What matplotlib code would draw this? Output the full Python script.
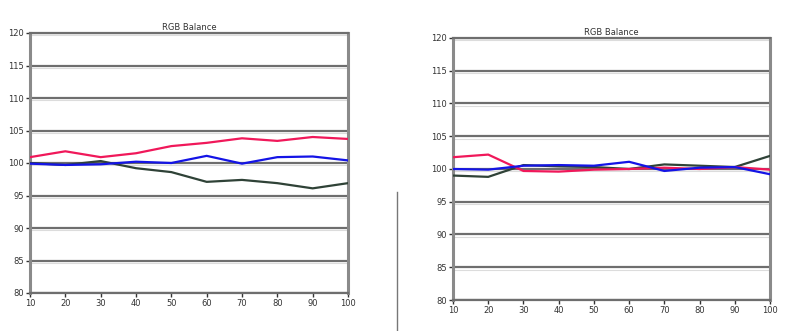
import matplotlib
matplotlib.use("Agg")
import matplotlib.pyplot as plt
from matplotlib.lines import Line2D

x_levels = [10, 20, 30, 40, 50, 60, 70, 80, 90, 100]
y_ticks = [80, 85, 90, 95, 100, 105, 110, 115, 120]

left_red = [100.9, 101.8, 100.9, 101.5, 102.6, 103.1, 103.8, 103.4, 104.0, 103.7]
left_green = [100.0, 99.7, 100.3, 99.2, 98.6, 97.1, 97.4, 96.9, 96.1, 96.9]
left_blue = [99.9, 99.7, 99.8, 100.2, 100.0, 101.1, 99.9, 100.9, 101.0, 100.4]

right_red = [101.8, 102.2, 99.7, 99.6, 99.9, 100.0, 100.2, 100.0, 100.3, 99.9]
right_green = [99.0, 98.8, 100.6, 100.4, 100.3, 100.0, 100.7, 100.5, 100.3, 102.0]
right_blue = [100.0, 99.9, 100.5, 100.6, 100.5, 101.1, 99.7, 100.2, 100.3, 99.2]

title = "RGB Balance"

fig = plt.figure(figsize=(7.92, 3.31), dpi=100)
fig.patch.set_facecolor("white")

def draw(ax, red, green, blue):
    ax.set_xlim(10, 100)
    ax.set_ylim(80, 120)
    for v in y_ticks:
        ax.axhline(v, color="#6e6e6e", lw=1.6, zorder=1)
        ax.axhline(v - 0.35, color="#dcdcdc", lw=0.8, zorder=0.9)
    ax.plot(x_levels, green, color="#2f4237", lw=1.6, zorder=3)
    ax.plot(x_levels, red, color="#f0185a", lw=1.6, zorder=4)
    ax.plot(x_levels, blue, color="#1414e6", lw=1.6, zorder=5)
    ax.set_xticks(x_levels)
    ax.set_yticks(y_ticks)
    ax.tick_params(axis="both", labelsize=6, colors="#333333", length=3, width=1, pad=1.5)
    for s in ["left", "right"]:
        ax.spines[s].set_color("#8a8a8a")
        ax.spines[s].set_linewidth(2.2)
    for s in ["top", "bottom"]:
        ax.spines[s].set_color("#6e6e6e")
        ax.spines[s].set_linewidth(1.6)
    ax.set_title(title, fontsize=6, color="#333333", pad=2)

ax1 = fig.add_axes([30/792, 1-293/331, 318/792, 260/331])
draw(ax1, left_red, left_green, left_blue)
ax2 = fig.add_axes([453/792, 1-300/331, 317/792, 262/331])
draw(ax2, right_red, right_green, right_blue)

fig.add_artist(Line2D([397/792, 397/792], [0, 1-192/331], color="#777777", lw=1.0))

fig.savefig("out.png", dpi=100, facecolor="white")
